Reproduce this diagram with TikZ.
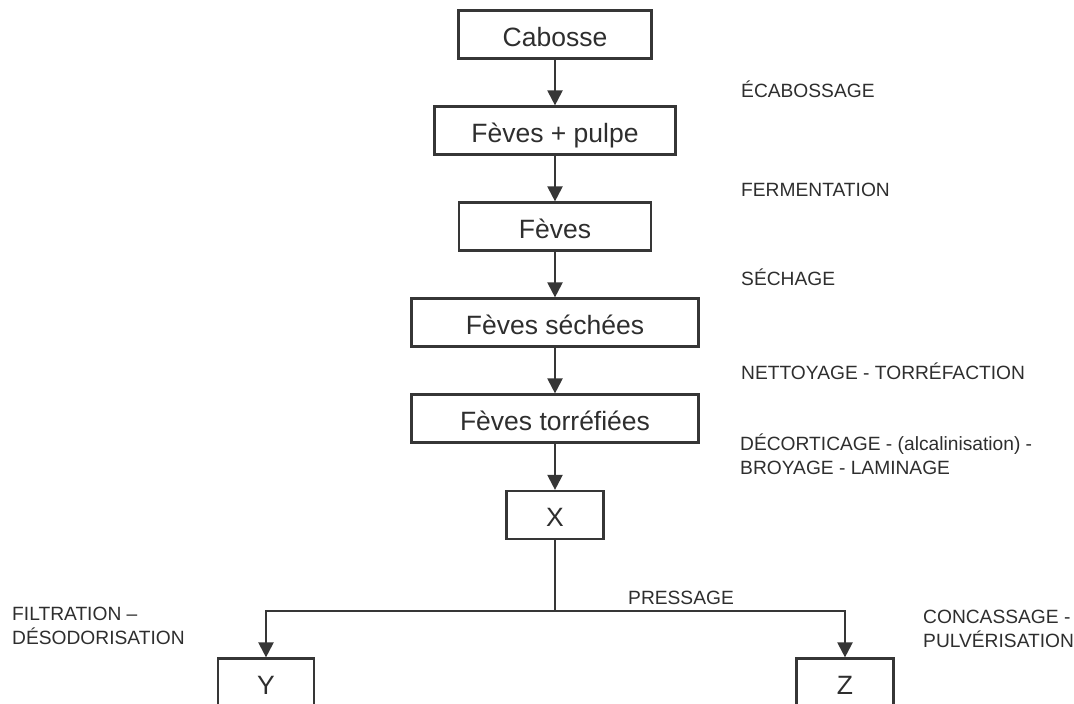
\documentclass[tikz,border=0pt]{standalone}
\usepackage{fontspec}
\setmainfont{Liberation Sans}
\usetikzlibrary{arrows.meta}
\definecolor{ink}{HTML}{363636}
\definecolor{txt}{HTML}{2E2E2E}
\begin{document}
\begin{tikzpicture}[x=1pt,y=-1pt,
  box/.style={draw=ink, line width=2.2pt, minimum height=48pt, inner sep=0pt,
    text=txt, font=\fontsize{26.5}{30}\selectfont, text height=23pt, text depth=0pt},
  lab/.style={anchor=base west, text=txt, font=\fontsize{19.2}{24}\selectfont,
    align=left, inner sep=0pt},
  link/.style={draw=ink, line width=2.2pt, line join=miter},
  arr/.style={link, -{Triangle[width=15pt,length=15pt]}}]
\useasboundingbox (0,0) rectangle (1074,704);
\clip (0,0) rectangle (1074,704);
\node[box, minimum width=193pt] (cab) at (555,34.5) {Cabosse};
\node[box, minimum width=241pt] (fp) at (555,130.5) {Fèves + pulpe};
\node[box, minimum width=192pt] (fe) at (555,226.5) {Fèves};
\node[box, minimum width=287pt] (fs) at (555,322.5) {Fèves séchées};
\node[box, minimum width=287pt] (ft) at (555,418.5) {Fèves torréfiées};
\node[box, minimum width=97pt] (x) at (555,515) {X};
\node[box, minimum width=96pt] (y) at (266,682.5) {Y};
\node[box, minimum width=97pt] (z) at (845,682.5) {Z};
\draw[arr] (cab) -- (fp);
\draw[arr] (fp) -- (fe);
\draw[arr] (fe) -- (fs);
\draw[arr] (fs) -- (ft);
\draw[arr] (ft) -- (x);
\coordinate (j) at (555,611);
\coordinate (jl) at (y.north |- j);
\coordinate (jr) at (z.north |- j);
\draw[link] (x.south) -- (j);
\draw[arr] (j) -- (jl) -- (y.north);
\draw[arr] (j) -- (jr) -- (z.north);
\node[lab] (l1) at (741,97) {ÉCABOSSAGE};
\node[lab] (l2) at (741,196) {FERMENTATION};
\node[lab] (l3) at (741,285) {SÉCHAGE};
\node[lab] (l4) at (741,379) {NETTOYAGE - TORRÉFACTION};
\node[lab] (l5) at (740,474) {DÉCORTICAGE - (alcalinisation) -\\BROYAGE - LAMINAGE};
\node[lab] (l6) at (628,604) {PRESSAGE};
\node[lab] (l7) at (12,644) {FILTRATION –\\DÉSODORISATION};
\node[lab] (l8) at (923,647) {CONCASSAGE -\\PULVÉRISATION};
\end{tikzpicture}
\end{document}
